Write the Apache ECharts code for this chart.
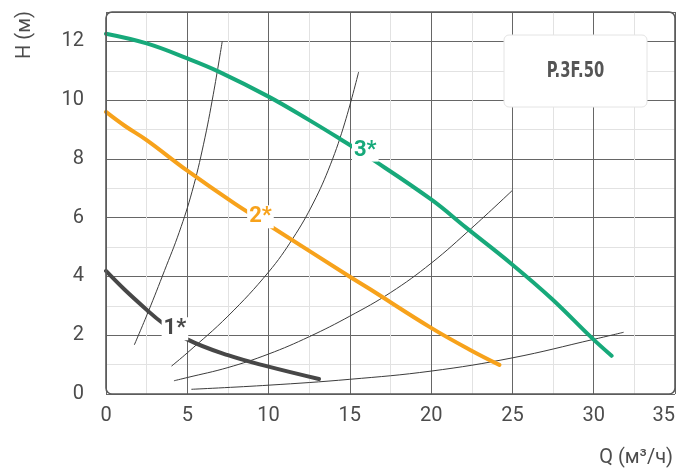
<!DOCTYPE html>
<html><head><meta charset="utf-8">
<script src="https://cdn.jsdelivr.net/npm/echarts@6/dist/echarts.min.js"></script>
<style>html,body{margin:0;padding:0;background:#fff}#c{width:689px;height:470px}</style>
</head><body><div id="c"></div>
<script>
// ---- data ----
const xTicks = [0, 5, 10, 15, 20, 25, 30, 35];
const yTicks = [0, 2, 4, 6, 8, 10, 12];
const xName = 'Q (м³/ч)';
const yName = 'H (м)';
const modelName = 'P.3F.50';

const curve1Q = [0, 1.17, 2.5, 3.4, 5, 7.5, 10, 13.1];
const curve1H = [4.19, 3.54, 2.87, 2.45, 1.86, 1.32, 0.93, 0.51];
const curve2Q = [0, 1.17, 2.5, 5, 7.92, 10, 15, 16.2, 20, 22.4, 24.2];
const curve2H = [9.6, 9.12, 8.64, 7.6, 6.48, 5.75, 3.99, 3.58, 2.25, 1.5, 0.99];
const curve3Q = [0, 2.5, 5, 6.9, 10, 12.5, 14.4, 16.2, 20, 22.15, 25, 27.4, 29.9, 31.1];
const curve3H = [12.26, 11.93, 11.42, 10.98, 10.12, 9.32, 8.68, 8.05, 6.62, 5.66, 4.4, 3.25, 1.9, 1.3];

const sysAQ = [1.74, 2.6, 3.6, 4.5, 5.3, 6.0, 6.6, 7.15];
const sysAH = [1.67, 2.8, 4.2, 5.5, 6.9, 8.5, 10.2, 12];
const sysBQ = [4.03, 5, 7.5, 10, 11.5, 12.75, 13.8, 14.7, 15.54];
const sysBH = [0.95, 1.4, 2.65, 4.15, 5.3, 6.5, 7.8, 9.25, 10.96];
const sysCQ = [4.18, 5, 7.5, 10, 12.5, 15, 17.5, 20, 22.5, 24.98];
const sysCH = [0.45, 0.56, 0.9, 1.36, 1.95, 2.65, 3.45, 4.45, 5.65, 6.92];
const sysDQ = [5.25, 10, 15, 20, 25, 30, 31.84];
const sysDH = [0.16, 0.3, 0.5, 0.78, 1.23, 1.86, 2.1];

const labelNames = ['1*', '2*', '3*'];
const labelQ = [4.24, 9.5, 15.95];
const labelH = [2.22, 6.03, 8.3];

// ---- chart ----
const colors = ['#474747', '#f7a21b', '#17a97a'];
const zip = (a, b) => a.map((v, i) => [v, b[i]]);
const FONT = 'Roboto, "Noto Sans", sans-serif';

const pumpCurves = [[curve1Q, curve1H], [curve2Q, curve2H], [curve3Q, curve3H]];
const sysCurves = [[sysAQ, sysAH], [sysBQ, sysBH], [sysCQ, sysCH], [sysDQ, sysDH]];

const series = [];
sysCurves.forEach((c, i) => series.push({
  type: 'line', name: 'sys' + i, data: zip(c[0], c[1]), smooth: 0.4,
  showSymbol: false, symbol: 'none', z: 3,
  lineStyle: { color: '#3c3c3c', width: 1 }
}));
pumpCurves.forEach((c, i) => series.push({
  type: 'line', name: 'pump' + i, data: zip(c[0], c[1]), smooth: 0.4,
  showSymbol: false, symbol: 'none', z: 4,
  lineStyle: { color: colors[i], width: 4, cap: 'round' }
}));
series.push({
  type: 'scatter', name: 'labels', z: 10, symbolSize: 0, silent: true,
  itemStyle: { opacity: 1 },
  data: labelNames.map((n, i) => ({
    name: n, value: [labelQ[i], labelH[i]],
    label: { color: colors[i] }
  })),
  label: {
    show: true, position: 'inside', formatter: p => p.name, opacity: 1,
    fontFamily: FONT, fontWeight: 'bold', fontSize: 22, lineHeight: 22,
    backgroundColor: '#fff', padding: [1, 2, 0, 2]
  }
});

const chart = echarts.init(document.getElementById('c'), null, { renderer: 'canvas' });
const option = {
  animation: false,
  backgroundColor: '#fff',
  grid: { left: 106, right: 14, top: 12, bottom: 76, containLabel: false, outerBoundsMode: 'none' },
  xAxis: [{
    type: 'value', min: xTicks[0], max: xTicks[xTicks.length - 1], interval: 5,
    axisLine: { show: false }, axisTick: { show: false },
    axisLabel: { fontFamily: FONT, fontSize: 20, color: '#4c4c4c', margin: 12, alignMaxLabel: 'right' },
    splitLine: { show: true, lineStyle: { color: '#666', width: 1 } },
    minorTick: { show: false, splitNumber: 2 },
    minorSplitLine: { show: true, lineStyle: { color: '#e2e2e2', width: 1 } }
  }],
  yAxis: [{
    type: 'value', min: 0, max: 13, interval: 1,
    axisLine: { show: false }, axisTick: { show: false },
    axisLabel: { show: false },
    splitLine: { show: true, lineStyle: { color: '#e2e2e2', width: 1 } }
  }, {
    type: 'value', min: 0, max: 13, interval: 2, position: 'left',
    axisLine: { show: false }, axisTick: { show: false },
    axisLabel: { fontFamily: FONT, fontSize: 20, color: '#4c4c4c', margin: 22, showMaxLabel: false,
      formatter: v => (yTicks.indexOf(v) >= 0 ? String(v) : '') },
    splitLine: { show: true, lineStyle: { color: '#666', width: 1 } }
  }],
  series: series
};
chart.setOption(option);

const p0 = chart.convertToPixel({ gridIndex: 0 }, [xTicks[0], 0]);
const p1 = chart.convertToPixel({ gridIndex: 0 }, [xTicks[xTicks.length - 1], 13]);
chart.setOption({
  graphic: [
    { type: 'rect', id: 'frame', z: 100, silent: true,
      shape: { x: p0[0], y: p1[1], width: p1[0] - p0[0], height: p0[1] - p1[1], r: 6 },
      style: { fill: 'none', stroke: '#5a5a5a', lineWidth: 1.6 } },
    { type: 'rect', id: 'legendBox', z: 50, silent: true,
      shape: { x: 504, y: 35, width: 143, height: 72, r: 5 },
      style: { fill: '#fff', stroke: '#e4e4e4', lineWidth: 1 } },
    { type: 'text', id: 'legendText', z: 51, silent: true, x: 575.5, y: 72, scaleX: 0.78,
      style: { text: modelName, font: 'bold 21px "Liberation Sans Narrow", "DejaVu Sans Condensed", sans-serif',
        fill: '#555', align: 'center', verticalAlign: 'middle' } },
    { type: 'text', id: 'yName', z: 51, silent: true, x: 25, y: 35, rotation: Math.PI / 2,
      style: { text: yName, font: '20px ' + FONT, fill: '#4c4c4c', align: 'center', verticalAlign: 'middle' } },
    { type: 'text', id: 'xName', z: 51, silent: true, x: 673, y: 458,
      style: { text: xName, font: '20px ' + FONT, fill: '#4c4c4c', align: 'right', verticalAlign: 'middle' } }
  ]
});
</script>
</body></html>
